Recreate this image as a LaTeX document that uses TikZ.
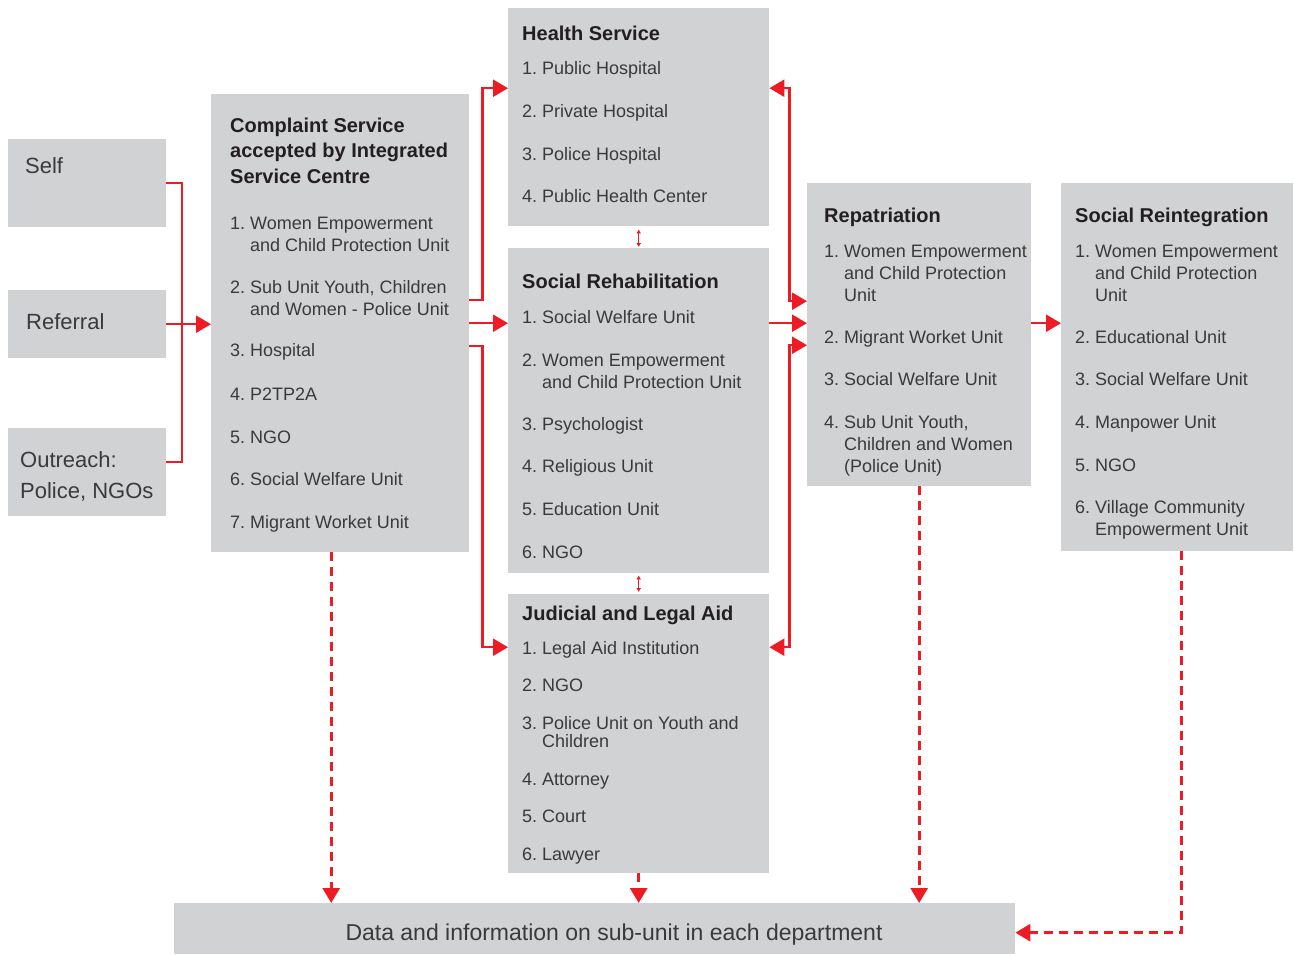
\documentclass[tikz,border=0pt]{standalone}
\usepackage{fontspec}
\setmainfont{Liberation Sans}
\usetikzlibrary{arrows.meta,calc}
\definecolor{flowred}{HTML}{ED1C24}
\definecolor{panelgray}{HTML}{D1D2D4}
\definecolor{inkgray}{HTML}{3A3A3A}
\definecolor{headink}{HTML}{231F20}
\newcommand{\numitem}[2]{\makebox[20pt][l]{#1}\begin{tabular}[t]{@{}l@{}}#2\end{tabular}}
\newcommand{\lines}[1]{\begin{tabular}[t]{@{}l@{}}#1\end{tabular}}
\tikzset{
  panel/.style={fill=panelgray, inner sep=0pt, anchor=north west},
  heading/.style={anchor=base west, inner sep=0pt, text=headink, font=\fontsize{20}{25.5}\selectfont\bfseries},
  entry/.style={anchor=base west, inner sep=0pt, text=inkgray, font=\fontsize{18}{22}\selectfont},
  source/.style={anchor=base west, inner sep=0pt, text=inkgray, font=\fontsize{22}{31}\selectfont},
  wire/.style={draw=flowred, line width=2.4pt},
  link/.style={wire, -{Triangle[length=15pt,width=17pt]}},
  duplex/.style={wire, {Triangle[length=15pt,width=17pt]}-{Triangle[length=15pt,width=17pt]}},
  dlink/.style={draw=flowred, line width=3pt, dash pattern=on 9pt off 6pt, -{Triangle[length=15pt,width=17pt]}},
  tinylink/.style={draw=flowred, line width=1pt, {Latex[length=4pt,width=5pt]}-{Latex[length=4pt,width=5pt]}}
}
\begin{document}
\begin{tikzpicture}[x=1pt, y=-1pt]
  \useasboundingbox (0,0) rectangle (1295,954);
  % sources
  \node[panel, minimum width=158pt, minimum height=88pt] (self) at (8,139) {};
  \node[panel, minimum width=158pt, minimum height=68pt] (referral) at (8,290) {};
  \node[panel, minimum width=158pt, minimum height=88pt] (outreach) at (8,428) {};
  \node[source] (selftxt) at (25,173) {Self};
  \node[source] (referraltxt) at (26,329) {Referral};
  \node[source] (outreachtxt) at (20,467) {\lines{Outreach:\\Police, NGOs}};

  % complaint service
  \node[panel, minimum width=258pt, minimum height=458pt] (complaint) at (211,94) {};
  \node[heading] (cstitle) at (230,132) {\lines{Complaint Service\\accepted by Integrated\\Service Centre}};
  \node[entry] (cs1) at (230,229) {\numitem{1.}{Women Empowerment\\and Child Protection Unit}};
  \node[entry] (cs2) at (230,293) {\numitem{2.}{Sub Unit Youth, Children\\and Women - Police Unit}};
  \node[entry] (cs3) at (230,356) {\numitem{3.}{Hospital}};
  \node[entry] (cs4) at (230,400) {\numitem{4.}{P2TP2A}};
  \node[entry] (cs5) at (230,443) {\numitem{5.}{NGO}};
  \node[entry] (cs6) at (230,485) {\numitem{6.}{Social Welfare Unit}};
  \node[entry] (cs7) at (230,528) {\numitem{7.}{Migrant Worket Unit}};

  % health service
  \node[panel, minimum width=261pt, minimum height=218pt] (health) at (508,8) {};
  \node[heading] (hstitle) at (522,40) {Health Service};
  \node[entry] (hs1) at (522,74) {\numitem{1.}{Public Hospital}};
  \node[entry] (hs2) at (522,117) {\numitem{2.}{Private Hospital}};
  \node[entry] (hs3) at (522,160) {\numitem{3.}{Police Hospital}};
  \node[entry] (hs4) at (522,202) {\numitem{4.}{Public Health Center}};

  % social rehabilitation
  \node[panel, minimum width=261pt, minimum height=325pt] (rehab) at (508,248) {};
  \node[heading] (srtitle) at (522,288) {Social Rehabilitation};
  \node[entry] (sr1) at (522,323) {\numitem{1.}{Social Welfare Unit}};
  \node[entry] (sr2) at (522,366) {\numitem{2.}{Women Empowerment\\and Child Protection Unit}};
  \node[entry] (sr3) at (522,430) {\numitem{3.}{Psychologist}};
  \node[entry] (sr4) at (522,472) {\numitem{4.}{Religious Unit}};
  \node[entry] (sr5) at (522,515) {\numitem{5.}{Education Unit}};
  \node[entry] (sr6) at (522,558) {\numitem{6.}{NGO}};

  % judicial and legal aid
  \node[panel, minimum width=261pt, minimum height=279pt] (judicial) at (508,594) {};
  \node[heading] (jltitle) at (522,620) {Judicial and Legal Aid};
  \node[entry] (jl1) at (522,654) {\numitem{1.}{Legal Aid Institution}};
  \node[entry] (jl2) at (522,691) {\numitem{2.}{NGO}};
  \node[entry] (jl3) at (522,729) {\renewcommand{\arraystretch}{0.82}\numitem{3.}{Police Unit on Youth and\\Children}};
  \node[entry] (jl4) at (522,785) {\numitem{4.}{Attorney}};
  \node[entry] (jl5) at (522,822) {\numitem{5.}{Court}};
  \node[entry] (jl6) at (522,860) {\numitem{6.}{Lawyer}};

  % repatriation
  \node[panel, minimum width=224pt, minimum height=303pt] (repat) at (807,183) {};
  \node[heading] (rptitle) at (824,222) {Repatriation};
  \node[entry] (rp1) at (824,257) {\numitem{1.}{Women Empowerment\\and Child Protection\\Unit}};
  \node[entry] (rp2) at (824,343) {\numitem{2.}{Migrant Worket Unit}};
  \node[entry] (rp3) at (824,385) {\numitem{3.}{Social Welfare Unit}};
  \node[entry] (rp4) at (824,428) {\numitem{4.}{Sub Unit Youth,\\Children and Women\\(Police Unit)}};

  % social reintegration
  \node[panel, minimum width=232pt, minimum height=368pt] (reint) at (1061,183) {};
  \node[heading] (rititle) at (1075,222) {Social Reintegration};
  \node[entry] (ri1) at (1075,257) {\numitem{1.}{Women Empowerment\\and Child Protection\\Unit}};
  \node[entry] (ri2) at (1075,343) {\numitem{2.}{Educational Unit}};
  \node[entry] (ri3) at (1075,385) {\numitem{3.}{Social Welfare Unit}};
  \node[entry] (ri4) at (1075,428) {\numitem{4.}{Manpower Unit}};
  \node[entry] (ri5) at (1075,471) {\numitem{5.}{NGO}};
  \node[entry] (ri6) at (1075,513) {\numitem{6.}{Village Community\\Empowerment Unit}};

  % data
  \node[panel, minimum width=841pt, minimum height=51pt] (data) at (174,903) {};
  \node[anchor=base, inner sep=0pt, text=inkgray, font=\fontsize{23}{28}\selectfont] (datatxt) at (614,940) {Data and information on sub-unit in each department};

  % sources to complaint
  \draw[wire] (self.east) -| (182,323) |- ([yshift=10pt]outreach.east);
  \draw[link] (referral.east) -- (complaint.west |- referral.east);

  % complaint to services
  \draw[link] ([yshift=23pt]complaint.east) -- ++(13,0) |- ([yshift=29pt]health.west);
  \draw[link] (complaint.east) -- (rehab.west |- complaint.east);
  \draw[link] ([yshift=-23pt]complaint.east) -- ++(13,0) |- ([yshift=86.5pt]judicial.west);
  \draw[tinylink] ([yshift=-3pt]health.south) -- ([yshift=1pt]rehab.north);
  \draw[tinylink] ([yshift=-2pt]rehab.south) -- ([yshift=2pt]judicial.north);

  % services to repatriation
  \draw[duplex] ([yshift=29pt]health.east) -- ++(20,0) |- ([yshift=33.5pt]repat.west);
  \draw[link] (rehab.east |- complaint.east) -- (repat.west |- complaint.east);
  \draw[duplex] ([yshift=86.5pt]judicial.east) -- ++(20,0) |- ([yshift=-10.5pt]repat.west);
  \draw[link] (repat.east |- complaint.east) -- (reint.west |- complaint.east);

  % data links
  \draw[dlink] ([xshift=-9pt]complaint.south) -- ([xshift=-9pt]complaint.south |- data.north);
  \draw[dlink] (judicial.south) -- (judicial.south |- data.north);
  \draw[dlink] (repat.south) -- (repat.south |- data.north);
  \draw[dlink] ([xshift=4pt]reint.south) |- ([yshift=-4pt]data.east);
\end{tikzpicture}
\end{document}
